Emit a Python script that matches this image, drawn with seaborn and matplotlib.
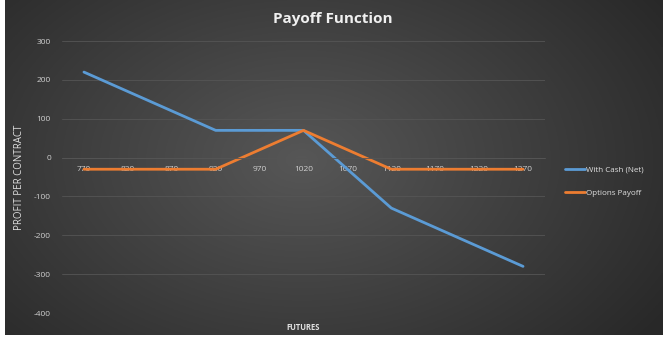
import matplotlib
matplotlib.use('Agg')
import matplotlib.pyplot as plt
import numpy as np
import pandas as pd
import seaborn as sns

# Data
futures = ['770', '820', '870', '920', '970', '1020', '1070', '1120', '1170', '1220', '1270']
with_cash = [220, 170, 120, 70, 70, 70, -30, -130, -180, -230, -280]
options_payoff = [-30, -30, -30, -30, 20, 70, 20, -30, -30, -30, -30]
y_ticks = [-400, -300, -200, -100, 0, 100, 200, 300]

df = pd.concat(
    [
        pd.DataFrame({'Futures': futures, 'Profit': with_cash, 'Series': 'With Cash (Net)'}),
        pd.DataFrame({'Futures': futures, 'Profit': options_payoff, 'Series': 'Options Payoff'}),
    ]
)

sns.set_theme(style='dark')
plt.rcParams['font.family'] = ['Open Sans', 'DejaVu Sans']
plt.rcParams['axes.unicode_minus'] = False

fig = plt.figure(figsize=(6.63, 3.43), dpi=100)
fig.patch.set_facecolor('white')

# Dark radial-gradient background like the Excel chart area
bg = fig.add_axes([5 / 663, 8 / 343, 1 - 5 / 663, 1 - 8 / 343])
yy, xx = np.mgrid[0:200, 0:400]
r = np.sqrt(((xx - 180) / 260) ** 2 + ((yy - 95) / 170) ** 2)
shade = np.clip(0.34 - 0.18 * r, 0.16, 0.34)
bg.imshow(np.dstack([shade] * 3), aspect='auto', extent=[0, 1, 0, 1])
bg.set_axis_off()

ax = fig.add_axes([62 / 663, 1 - 313 / 343, (545 - 62) / 663, (313 - 41) / 343])
ax.set_facecolor('none')

sns.lineplot(
    data=df, x='Futures', y='Profit', hue='Series',
    palette=['#5B9BD5', '#ED7D31'], linewidth=2.0, sort=False, ax=ax,
)

ax.set_xlim(-0.5, len(futures) - 0.5)
ax.set_ylim(-400, 300)
ax.set_yticks(y_ticks)
ax.grid(axis='y', color='#555555', linewidth=0.6)
ax.grid(axis='x', visible=False)
for s in ['top', 'right', 'left']:
    ax.spines[s].set_visible(False)
ax.spines['bottom'].set_position(('data', 0))
ax.spines['bottom'].set_color('#555555')
ax.spines['bottom'].set_linewidth(0.6)
ax.tick_params(axis='both', length=0, colors='#d0d0d0', labelsize=6)
ax.tick_params(axis='x', pad=6)
ax.tick_params(axis='y', pad=8)

ax.set_xlabel('FUTURES', color='#e0e0e0', fontsize=5.5, fontweight='bold')
ax.xaxis.set_label_coords(0.5, -0.035)
ax.set_ylabel('PROFIT PER CONTRACT', color='#e0e0e0', fontsize=7)
ax.yaxis.set_label_coords(-0.077, 0.5)

fig.text(0.502, 0.945, 'Payoff Function', color='#f0f0f0', fontsize=11,
         fontweight='bold', ha='center', va='center')

handles, labels = ax.get_legend_handles_labels()
ax.legend_.remove()
fig.legend(handles, labels, loc='upper left', bbox_to_anchor=(558 / 663, 1 - 159 / 343),
           frameon=False, fontsize=5.8, labelcolor='#e0e0e0', handlelength=2.4,
           handletextpad=0.2, labelspacing=1.9)

plt.savefig('out.png', dpi=100)
